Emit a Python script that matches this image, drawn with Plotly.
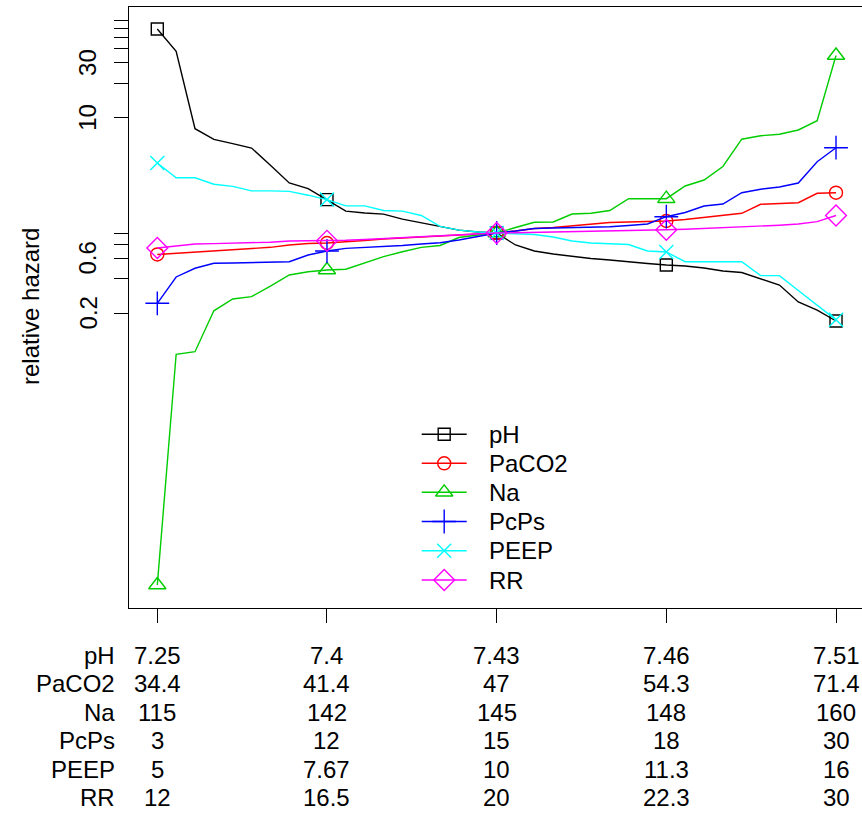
import math
import plotly.graph_objects as go

# grid positions along the x axis (quantile grid, 37 points); marked points every 9th
pos = list(range(37))
tick_pos = [0, 9, 18, 27, 36]

series_names = ["pH", "PaCO2", "Na", "PcPs", "PEEP", "RR"]

ph = [59.1, 37.9, 8.05, 6.51, 5.97, 5.47, 3.87, 2.72, 2.43, 1.95, 1.55, 1.49, 1.46,
      1.32, 1.23, 1.14, 1.06, 1.02, 1.0, 0.787, 0.698, 0.657, 0.625, 0.600, 0.583,
      0.560, 0.543, 0.527, 0.517, 0.497, 0.468, 0.454, 0.403, 0.353, 0.252, 0.214, 0.172]
paco2 = [0.651, 0.666, 0.684, 0.702, 0.719, 0.738, 0.751, 0.787, 0.811, 0.819, 0.835,
         0.861, 0.887, 0.905, 0.923, 0.942, 0.961, 0.980, 1.0, 1.041, 1.094, 1.116,
         1.150, 1.197, 1.234, 1.246, 1.259, 1.271, 1.310, 1.364, 1.419, 1.483, 1.776,
         1.804, 1.833, 2.213, 2.240]
na = [0.000876, 0.0884, 0.0931, 0.211, 0.267, 0.280, 0.346, 0.432, 0.461, 0.477, 0.484,
      0.549, 0.623, 0.688, 0.751, 0.779, 0.914, 0.961, 1.0, 1.116, 1.239, 1.246, 1.462,
      1.483, 1.568, 1.986, 1.986, 1.986, 2.560, 2.886, 3.781, 6.527, 7.000, 7.199,
      7.846, 9.45, 34.8]
pcps = [0.245, 0.415, 0.494, 0.546, 0.549, 0.552, 0.558, 0.563, 0.644, 0.698, 0.736,
        0.748, 0.760, 0.779, 0.803, 0.824, 0.869, 0.932, 1.0, 1.041, 1.094, 1.105,
        1.112, 1.121, 1.132, 1.162, 1.197, 1.385, 1.507, 1.716, 1.786, 2.239, 2.401,
        2.509, 2.718, 4.162, 5.507]
peep = [4.06, 3.02, 3.02, 2.65, 2.54, 2.32, 2.32, 2.30, 2.13, 1.95, 1.72, 1.72, 1.57,
        1.55, 1.42, 1.14, 1.06, 1.02, 1.0, 0.98, 0.97, 0.923, 0.852, 0.819, 0.811,
        0.795, 0.698, 0.684, 0.563, 0.563, 0.563, 0.563, 0.426, 0.426, 0.317, 0.237, 0.176]
rr = [0.741, 0.771, 0.803, 0.809, 0.815, 0.822, 0.832, 0.852, 0.852, 0.856, 0.864,
      0.878, 0.896, 0.914, 0.929, 0.945, 0.961, 0.980, 1.0, 1.004, 1.010, 1.018, 1.024,
      1.032, 1.041, 1.051, 1.062, 1.066, 1.077, 1.092, 1.109, 1.139, 1.150, 1.169,
      1.197, 1.254, 1.419]

# values of each predictor at the five marked grid positions (table under the axis)
ph_labels = ["7.25", "7.4", "7.43", "7.46", "7.51"]
paco2_labels = ["34.4", "41.4", "47", "54.3", "71.4"]
na_labels = ["115", "142", "145", "148", "160"]
pcps_labels = ["3", "12", "15", "18", "30"]
peep_labels = ["5", "7.67", "10", "11.3", "16"]
rr_labels = ["12", "16.5", "20", "22.3", "30"]

ytick_vals = [0.2, 0.4, 0.6, 0.8, 1, 10, 20, 30, 40, 50, 60, 70]
ytick_labels = {0.2: "0.2", 0.6: "0.6", 10: "10", 30: "30"}

colors = ["#000000", "#FF0000", "#00CD00", "#0000FF", "#00FFFF", "#FF00FF"]
symbols = ["square-open", "circle-open", "triangle-up-open", "cross-thin-open",
           "x-thin-open", "diamond-open"]
msizes = [12, 13, 15, 17, 14, 16]

all_series = [ph, paco2, na, pcps, peep, rr]
all_labels = [ph_labels, paco2_labels, na_labels, pcps_labels, peep_labels, rr_labels]

FONT = "Liberation Sans, Arial, sans-serif"
FS = 24
LW = 1.4

# page layout (body margin is removed below, so page pixels == figure pixels)
W, H = 862, 814
PLOT_LEFT, PLOT_TOP, PLOT_BOTTOM = 129, 7, 608
L = PLOT_LEFT
T = PLOT_TOP
B = H - PLOT_BOTTOM
R = 0
PW = W - L - R
PH = H - T - B

# axis ranges: x = 18.853 px per grid step with grid 0 at x 157.3;
# y: 50 px per natural-log unit, hazard 1 at y 233
x_lo = -(157.3 - PLOT_LEFT) / 18.853
x_hi = x_lo + PW / 18.853
y_hi = ((233 - PLOT_TOP) / 50.0) / math.log(10)
y_lo = -((PLOT_BOTTOM - 233) / 50.0) / math.log(10)


def fy(page_y):
    """pixel y -> paper coordinate"""
    return (PLOT_BOTTOM - page_y) / PH


def fx(page_x):
    """pixel x -> paper coordinate"""
    return (page_x - PLOT_LEFT) / PW


fig = go.Figure()

for name, ys, c, s, ms in zip(series_names, all_series, colors, symbols, msizes):
    fig.add_trace(go.Scatter(x=pos, y=ys, mode="lines", line=dict(color=c, width=LW),
                             showlegend=False, hoverinfo="skip", name=name))
    fig.add_trace(go.Scatter(x=[pos[i] for i in tick_pos], y=[ys[i] for i in tick_pos],
                             mode="markers", showlegend=False, name=name,
                             marker=dict(symbol=s, size=ms, color=c,
                                         line=dict(color=c, width=LW))))

# legend (drawn like base R's legend(): line segment, symbol in the middle, label)
leg_rows = [434.3, 463.3, 492.3, 521.5, 550.7, 580.0]
leg_x0, leg_x1, leg_text_x = 421.7, 466.7, 487.0
ann = []
for name, c, s, ms, ry in zip(series_names, colors, symbols, msizes, leg_rows):
    fig.add_trace(go.Scatter(x=[fx(leg_x0), fx(leg_x1)], y=[fy(ry), fy(ry)],
                             xaxis="x2", yaxis="y2", mode="lines", showlegend=False,
                             hoverinfo="skip", line=dict(color=c, width=LW)))
    fig.add_trace(go.Scatter(x=[fx((leg_x0 + leg_x1) / 2)], y=[fy(ry)],
                             xaxis="x2", yaxis="y2", mode="markers", showlegend=False,
                             hoverinfo="skip",
                             marker=dict(symbol=s, size=ms, color=c,
                                         line=dict(color=c, width=LW))))
    ann.append(dict(x=fx(leg_text_x), y=fy(ry), xref="paper", yref="paper", text=name,
                    showarrow=False, xanchor="left", yanchor="middle",
                    font=dict(family=FONT, size=FS, color="black")))

# table rows under the plot
row_y = [655, 683.5, 712, 740.5, 769, 797]
for name, labs, py in zip(series_names, all_labels, row_y):
    ann.append(dict(x=fx(117), y=fy(py), xref="paper", yref="paper",
                    text=name, showarrow=False, xanchor="right", yanchor="middle",
                    font=dict(family=FONT, size=FS, color="black")))
    for tp, lab in zip(tick_pos, labs):
        ann.append(dict(x=pos[tp], y=fy(py), xref="x", yref="paper",
                        text=lab, showarrow=False, xanchor="center", yanchor="middle",
                        font=dict(family=FONT, size=FS, color="black")))

# y tick labels (rotated, as in base R)
for v, lab in ytick_labels.items():
    ann.append(dict(x=fx(88), y=math.log10(v), xref="paper", yref="y",
                    text=lab, showarrow=False, textangle=-90, xanchor="center",
                    yanchor="middle", font=dict(family=FONT, size=FS, color="black")))

# y axis title
ann.append(dict(x=fx(30), y=fy(307), xref="paper", yref="paper",
                text="relative hazard", showarrow=False, textangle=-90,
                xanchor="center", yanchor="middle",
                font=dict(family=FONT, size=FS, color="black")))

shapes = [
    dict(type="line", xref="paper", yref="y", x0=0, x1=1, y0=0, y1=0,
         line=dict(color="black", width=LW, dash="9px,7px")),
    dict(type="line", xref="paper", yref="y", x0=fx(113), x1=0, y0=0, y1=0,
         line=dict(color="black", width=4)),
]

fig.update_layout(
    width=W, height=H,
    margin=dict(l=L, r=R, t=T, b=B, pad=0),
    paper_bgcolor="white", plot_bgcolor="white",
    font=dict(family=FONT, size=FS, color="black"),
    showlegend=False,
    annotations=ann,
    shapes=shapes,
    xaxis=dict(range=[x_lo, x_hi], showgrid=False, zeroline=False, showline=True,
               linecolor="black", linewidth=LW, mirror=True, ticks="outside",
               ticklen=14, tickwidth=LW, tickcolor="black",
               tickvals=[pos[i] for i in tick_pos], showticklabels=False),
    yaxis=dict(type="log", range=[y_lo, y_hi], showgrid=False, zeroline=False, showline=True,
               linecolor="black", linewidth=LW, mirror=False, ticks="outside",
               ticklen=14, tickwidth=LW, tickcolor="black", tickvals=ytick_vals,
               showticklabels=False),
    xaxis2=dict(overlaying="x", anchor="y2", range=[0, 1], visible=False, fixedrange=True),
    yaxis2=dict(overlaying="y", anchor="x2", range=[0, 1], visible=False, fixedrange=True),
)

fig.write_html(
    "out.html",
    config={"displayModeBar": False},
    post_script=("document.body.style.margin='0';"
                 "document.body.style.overflow='hidden';"
                 "document.documentElement.style.overflow='hidden';"),
)
